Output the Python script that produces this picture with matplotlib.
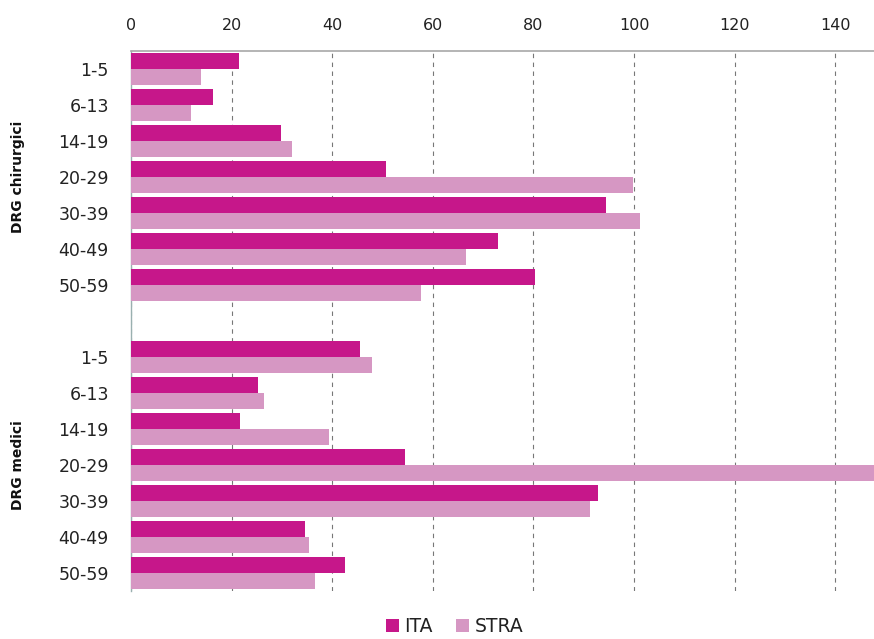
import matplotlib
matplotlib.use("Agg")
import matplotlib.pyplot as plt
import numpy as np

age_groups = ["1-5", "6-13", "14-19", "20-29", "30-39", "40-49", "50-59"]
group_names = ["DRG chirurgici", "DRG medici"]
ita_chir = [21.5, 16.3, 29.9, 50.6, 94.4, 72.9, 80.3]
stra_chir = [14.0, 12.0, 32.1, 99.8, 101.2, 66.5, 57.6]
ita_med = [45.6, 25.3, 21.7, 54.4, 92.8, 34.5, 42.6]
stra_med = [48.0, 26.5, 39.4, 152.0, 91.2, 35.4, 36.5]
series_names = ["ITA", "STRA"]
colors = ["#C6178A", "#D697C3"]

n = len(age_groups)
pos_chir = np.arange(n)
pos_med = np.arange(n) + n + 1
positions = np.concatenate([pos_chir, pos_med])
ita = ita_chir + ita_med
stra = stra_chir + stra_med

fig = plt.figure(figsize=(8.74, 6.39), dpi=100)
ax = fig.add_axes([131 / 874, 48 / 639, 743 / 874, 540 / 639])

h = 0.44
ax.barh(positions - h / 2, ita, height=h, color=colors[0], label=series_names[0], zorder=3)
ax.barh(positions + h / 2, stra, height=h, color=colors[1], label=series_names[1], zorder=3)

ax.set_ylim(2 * n + 0.5, -0.5)
ax.set_xlim(0, 147.7)
ax.set_yticks(positions, labels=age_groups * 2, fontsize=12.5, color="#222222")
ax.xaxis.tick_top()
ax.set_xticks(np.arange(0, 141, 20))
ax.tick_params(axis="x", length=0, pad=13, labelsize=11.5, labelcolor="#222222")
for lab in ax.get_xticklabels():
    lab.set_family(["Liberation Sans Narrow", "DejaVu Sans"])
ax.tick_params(axis="y", length=0, pad=16)
ax.grid(axis="x", color="#777777", linestyle=(0, (4, 4)), linewidth=0.8, zorder=0)

for side in ["right", "bottom"]:
    ax.spines[side].set_visible(False)
ax.spines["top"].set_color("#A8A8A8")
ax.spines["top"].set_linewidth(1.2)
ax.spines["left"].set_color("#9AB0B0")
ax.spines["left"].set_linewidth(1.0)

tr = ax.get_yaxis_transform()
for name, pos in zip(group_names, [pos_chir, pos_med]):
    ax.text(-0.152, pos.mean(), name, transform=tr, rotation=90, ha="center",
            va="center", fontsize=10, fontweight="bold", color="#111111")

fig.legend(loc="center", bbox_to_anchor=(0.52, 0.02), ncol=2, frameon=False,
           fontsize=13.5, handlelength=0.7, handleheight=0.7, handletextpad=0.3,
           columnspacing=1.2, labelcolor="#222222", borderpad=0.1)

fig.savefig("out.png", dpi=100)
